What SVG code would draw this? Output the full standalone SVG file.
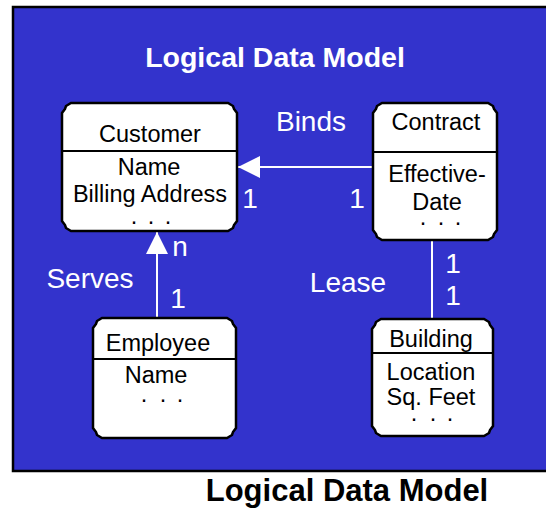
<svg xmlns="http://www.w3.org/2000/svg" width="546" height="510" viewBox="0 0 546 510">
  <style>
    .node { fill: #ffffff; stroke: #000000; stroke-width: 2.5; stroke-linejoin: miter; }
    .div { stroke: #000000; stroke-width: 2; }
    .nt { font-family: "Liberation Sans", Arial, sans-serif; font-size: 23.5px; fill: #000000; text-anchor: middle; }
    .lbl { font-family: "Liberation Sans", Arial, sans-serif; font-size: 28px; fill: #ffffff; text-anchor: middle; }
    .conn { stroke: #ffffff; stroke-width: 2; fill: none; }
    .ttl { font-family: "Liberation Sans", Arial, sans-serif; font-weight: bold; text-anchor: middle; }
  </style>
  <defs>
    <marker id="arrow" markerUnits="userSpaceOnUse" markerWidth="22" markerHeight="22" viewBox="0 0 20 20" refX="20" refY="10" orient="auto">
      <path d="M0,0 L20,10 L0,20 Z" fill="#ffffff"/>
    </marker>
  </defs>

  <!-- background panel -->
  <rect x="13" y="7" width="540" height="464" fill="#3333cc" stroke="#000000" stroke-width="2.5"/>

  <text class="ttl" x="275" y="67" font-size="28.5" fill="#ffffff">Logical Data Model</text>

  <!-- connectors -->
  <g id="connectors">
    <line class="conn" x1="373" y1="167" x2="238" y2="167" marker-end="url(#arrow)"/>
    <line class="conn" x1="157" y1="318" x2="157" y2="232" marker-end="url(#arrow)"/>
    <line class="conn" x1="432" y1="240" x2="432" y2="319"/>
    <text class="lbl" x="311" y="131">Binds</text>
    <text class="lbl" x="90" y="288">Serves</text>
    <text class="lbl" x="348" y="292">Lease</text>
    <text class="lbl" x="180" y="256">n</text>
    <text class="lbl" x="178" y="308">1</text>
    <text class="lbl" x="250" y="208">1</text>
    <text class="lbl" x="357" y="208">1</text>
    <text class="lbl" x="453" y="273">1</text>
    <text class="lbl" x="453" y="305">1</text>
  </g>

  <!-- Customer -->
  <g id="customer">
    <path class="node" d="M71,103 H228 L233,106 L234,109 L237,113 V221 L234,225 L233,228 L228,231 H71 L66,228 L65,225 L62,221 V113 L65,109 L66,106 Z"/>
    <line class="div" x1="62" y1="151" x2="237" y2="151"/>
    <text class="nt" x="150" y="142">Customer</text>
    <text class="nt" x="149" y="175">Name</text>
    <text class="nt" x="150" y="202">Billing Address</text>
    <text class="nt" x="134 151 168" y="224">...</text>
  </g>

  <!-- Contract -->
  <g id="contract">
    <path class="node" d="M382,103 H488 L493,106 L494,109 L497,113 V230 L494,234 L493,237 L488,240 H382 L377,237 L376,234 L373,230 V113 L376,109 L377,106 Z"/>
    <line class="div" x1="373" y1="152" x2="497" y2="152"/>
    <text class="nt" x="436" y="130">Contract</text>
    <text class="nt" x="437" y="182">Effective-</text>
    <text class="nt" x="437" y="210">Date</text>
    <text class="nt" x="423 441 458" y="225">...</text>
  </g>

  <!-- Employee -->
  <g id="employee">
    <path class="node" d="M102,318 H227 L232,321 L233,324 L236,328 V428 L233,432 L232,435 L227,438 H102 L97,435 L96,432 L93,428 V328 L96,324 L97,321 Z"/>
    <line class="div" x1="93" y1="359" x2="236" y2="359"/>
    <text class="nt" x="158" y="351">Employee</text>
    <text class="nt" x="156" y="383">Name</text>
    <text class="nt" x="144 163 180" y="402">...</text>
  </g>

  <!-- Building -->
  <g id="building">
    <path class="node" d="M381,319 H484 L489,322 L490,325 L493,329 V426 L490,430 L489,433 L484,436 H381 L376,433 L375,430 L372,426 V329 L375,325 L376,322 Z"/>
    <line class="div" x1="372" y1="353" x2="493" y2="353"/>
    <text class="nt" x="431" y="347">Building</text>
    <text class="nt" x="431" y="380">Location</text>
    <text class="nt" x="431" y="405">Sq. Feet</text>
    <text class="nt" x="414 433 450" y="421">...</text>
  </g>

  <text class="ttl" x="347" y="501" font-size="31" fill="#000000">Logical Data Model</text>
</svg>
